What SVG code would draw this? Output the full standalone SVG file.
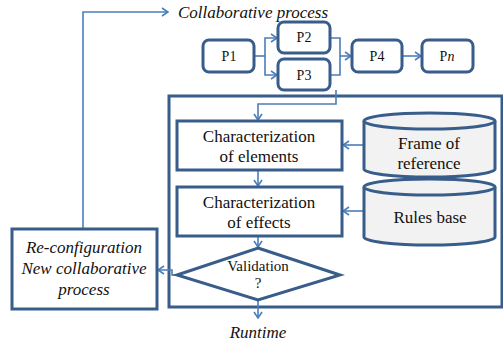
<svg xmlns="http://www.w3.org/2000/svg" width="503" height="346" viewBox="0 0 503 346">
<defs>
<style>
.box{fill:#fff;stroke:#385d8a;stroke-width:3}
.cyl{fill:#f2f2f2;stroke:#385d8a;stroke-width:3}
.con{fill:none;stroke:#4a7ebb;stroke-width:1.6}
.t{fill:#111;text-anchor:middle}
.it{font-style:italic}
</style>
<marker id="ar" markerWidth="8" markerHeight="10" refX="7" refY="5" orient="auto" markerUnits="userSpaceOnUse">
<path d="M1,1 L7,5 L1,9" fill="none" stroke="#4a7ebb" stroke-width="1.6"/>
</marker>
</defs>
<rect width="503" height="346" fill="#fff"/>

<g id="frame"><rect x="169" y="96" width="333" height="211" fill="none" stroke="#385d8a" stroke-width="3"/></g>

<g id="connectors">
<polyline class="con" points="83,229 83,12 168,12" marker-end="url(#ar)"/>
<polyline class="con" points="254,56 265,56"/>
<polyline class="con" points="265,56 265,38 277,38" marker-end="url(#ar)"/>
<polyline class="con" points="265,56 265,75 277,75" marker-end="url(#ar)"/>
<polyline class="con" points="330,38 340,38 340,75 330,75"/>
<polyline class="con" points="340,56 351,56" marker-end="url(#ar)"/>
<polyline class="con" points="402,56 421,56" marker-end="url(#ar)"/>
<polyline class="con" points="336,90 336,104 258,104 258,120" marker-end="url(#ar)"/>
<polyline class="con" points="258,170 258,186" marker-end="url(#ar)"/>
<polyline class="con" points="364,145 343,145" marker-end="url(#ar)"/>
<polyline class="con" points="364,211 343,211" marker-end="url(#ar)"/>
<polyline class="con" points="258,236 258,247" marker-end="url(#ar)"/>
<polyline class="con" points="258,300 258,318" marker-end="url(#ar)"/>
<polyline class="con" points="177,275 172,275 172,270 158,270" marker-end="url(#ar)"/>
</g>

<g font-family="Liberation Serif, serif">
<g id="collab-label"><text class="t it" x="253" y="18" font-size="17">Collaborative process</text></g>

<g id="p1"><rect class="box" x="203" y="40" width="51" height="32" rx="6"/><text class="t" x="229" y="61" font-size="14">P1</text></g>
<g id="p2"><rect class="box" x="278" y="22" width="52" height="31" rx="6"/><text class="t" x="304" y="42" font-size="14">P2</text></g>
<g id="p3"><rect class="box" x="278" y="59" width="52" height="31" rx="6"/><text class="t" x="304" y="80" font-size="14">P3</text></g>
<g id="p4"><rect class="box" x="352" y="40" width="50" height="32" rx="6"/><text class="t" x="377" y="61" font-size="14">P4</text></g>
<g id="pn"><rect class="box" x="422" y="40" width="51" height="32" rx="6"/><text class="t" x="447" y="61" font-size="14">P<tspan font-style="italic">n</tspan></text></g>

<g id="char-elements"><rect class="box" x="177" y="121" width="165" height="49"/>
<text class="t" x="259" y="142" font-size="17">Characterization</text><text class="t" x="259" y="162" font-size="17">of elements</text></g>
<g id="char-effects"><rect class="box" x="177" y="187" width="165" height="49"/>
<text class="t" x="259" y="208" font-size="17">Characterization</text><text class="t" x="259" y="228" font-size="17">of effects</text></g>

<g id="frame-of-reference">
<path class="cyl" d="M364,121 L364,169 A65.5,8 0 0 0 495,169 L495,121"/>
<ellipse class="cyl" cx="429.5" cy="121" rx="65.5" ry="8"/>
<text class="t" x="429" y="149" font-size="17">Frame of</text><text class="t" x="429" y="169" font-size="17">reference</text></g>
<g id="rules-base">
<path class="cyl" d="M364,187 L364,237 A65.5,8 0 0 0 495,237 L495,187"/>
<ellipse class="cyl" cx="429.5" cy="187" rx="65.5" ry="8"/>
<text class="t" x="430" y="223" font-size="17">Rules base</text></g>

<g id="validation"><polygon class="box" points="258,248 340,275 258,300 177,275"/>
<text class="t" x="258" y="271" font-size="15">Validation</text><text class="t" x="258" y="288" font-size="15">?</text></g>

<g id="reconfig"><rect class="box" x="12" y="229" width="145" height="80"/>
<text class="t it" x="84" y="253" font-size="17">Re-configuration</text>
<text class="t it" x="84" y="274" font-size="17">New collaborative</text>
<text class="t it" x="84" y="295" font-size="17">process</text></g>

<g id="runtime-label"><text class="t it" x="258" y="338" font-size="17">Runtime</text></g>
</g>
</svg>
